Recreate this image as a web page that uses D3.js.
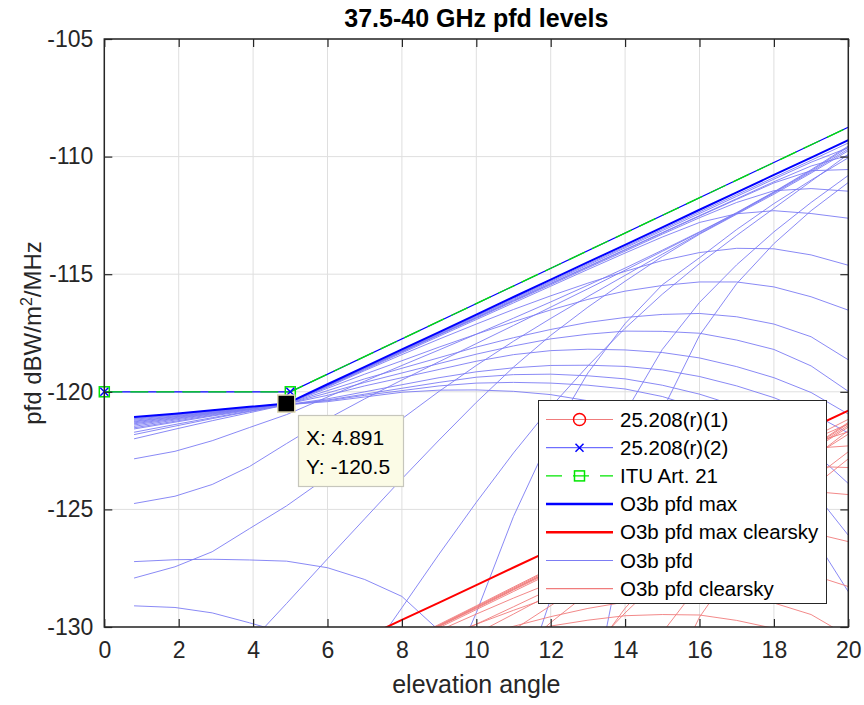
<!DOCTYPE html>
<html>
<head>
<meta charset="utf-8">
<script src="https://cdn.jsdelivr.net/npm/d3@7"></script>
<style>
  body { margin: 0; background: #fff; }
  text { font-family: "Liberation Sans", Arial, Helvetica, sans-serif; }
</style>
</head>
<body>
<svg id="chart" width="864" height="705"></svg>
<script>
// -----------------------------
// Data
// -----------------------------
const TITLE = "37.5-40 GHz pfd levels";
const X_TICKS = [0, 2, 4, 6, 8, 10, 12, 14, 16, 18, 20];
const Y_TICKS = [-130, -125, -120, -115, -110, -105];

// elevation samples of the O3b curves
const ELEV = [0.8, 1.9, 2.9, 3.9, 4.9, 6, 7, 8, 9, 10, 11, 12, 13, 14, 15, 16, 17, 18, 19, 20];

const PFD_MAX = [-121.07, -120.93, -120.78, -120.64, -120.5, -119.68, -118.94, -118.2, -117.46, -116.72,
  -115.97, -115.23, -114.49, -113.75, -113.01, -112.26, -111.52, -110.78, -110.04, -109.3];

// O3b pfd curves (one row per curve, aligned with ELEV, null = not drawn)
const PFD_ROWS = [
  [-121.1, -120.95, -120.79, -120.65, -120.5, -119.7, -118.97, -118.24, -117.5, -116.77, -116.03, -115.3, -114.56, -113.83, -113.09, -112.35, -111.62, -110.89, -110.16, -109.42],
  [-121.14, -120.97, -120.81, -120.66, -120.5, -119.72, -118.99, -118.26, -117.53, -116.8, -116.07, -115.34, -114.61, -113.88, -113.15, -112.42, -111.69, -110.96, -110.24, -109.62],
  [-121.17, -120.99, -120.83, -120.67, -120.5, -119.73, -119.0, -118.28, -117.56, -116.84, -116.11, -115.39, -114.67, -113.95, -113.23, -112.51, -111.79, -111.07, -110.4, -109.95],
  [-121.21, -121.02, -120.85, -120.68, -120.5, -119.74, -119.01, -118.29, -117.57, -116.85, -116.13, -115.41, -114.69, -113.97, -113.25, -112.53, -111.82, -111.12, -110.6, -110.55],
  [-121.25, -121.05, -120.87, -120.69, -120.5, -119.75, -119.03, -118.31, -117.59, -116.88, -116.16, -115.45, -114.73, -114.02, -113.3, -112.6, -111.95, -111.45, -111.36, -111.47],
  [-121.28, -121.07, -120.88, -120.69, -120.5, -119.77, -119.06, -118.35, -117.64, -116.93, -116.22, -115.51, -114.8, -114.1, -113.42, -112.8, -112.43, -112.3, -112.42, -112.62],
  [-121.32, -121.1, -120.9, -120.7, -120.5, -119.8, -119.1, -118.42, -117.76, -117.12, -116.5, -115.92, -115.38, -114.88, -114.42, -114.08, -113.9, -113.92, -114.18, -114.62],
  [-121.36, -121.13, -120.92, -120.72, -120.52, -119.85, -119.25, -118.68, -118.1, -117.55, -117.02, -116.52, -116.07, -115.72, -115.48, -115.33, -115.33, -115.54, -115.96, -116.53],
  [-121.41, -121.16, -120.94, -120.73, -120.52, -119.95, -119.45, -119.0, -118.55, -118.1, -117.7, -117.35, -117.05, -116.84, -116.71, -116.67, -116.81, -117.12, -117.66, -118.64],
  [-121.47, -121.2, -120.97, -120.75, -120.52, -120.05, -119.6, -119.2, -118.8, -118.4, -118.05, -117.75, -117.55, -117.42, -117.43, -117.51, -117.8, -118.2, -118.9, -119.98],
  [-121.53, -121.25, -121.0, -120.76, -120.52, -120.15, -119.75, -119.4, -119.05, -118.7, -118.42, -118.25, -118.19, -118.22, -118.33, -118.56, -118.93, -119.4, -120.03, -120.95],
  [-121.58, -121.29, -121.03, -120.79, -120.55, -120.3, -120.0, -119.7, -119.4, -119.15, -118.98, -118.88, -118.87, -118.92, -119.07, -119.35, -119.75, -120.25, -120.9, -121.75],
  [-121.72, -121.39, -121.1, -120.82, -120.55, -120.35, -120.1, -119.85, -119.6, -119.38, -119.27, -119.25, -119.32, -119.45, -119.72, -120.1, -120.6, -121.3, -122.45, -123.9],
  [-121.82, -121.46, -121.14, -120.84, -120.55, -120.38, -120.15, -119.95, -119.75, -119.63, -119.6, -119.63, -119.72, -119.88, -120.2, -120.7, -121.45, -122.6, -124.1, -126.1],
  [-122.0, -121.59, -121.23, -120.89, -120.55, -120.42, -120.22, -120.02, -119.93, -119.92, -119.98, -120.12, -120.38, -120.73, -121.25, -121.98, -122.95, -124.25, -126.0, -128.5],
  [-122.85, -122.53, -122.08, -121.52, -120.97, -120.22, -119.55, -118.88, -118.22, -117.55, -116.87, -116.18, -115.47, -114.74, -113.98, -113.2, -112.38, -111.5, -110.56, -109.55],
  [-124.75, -124.44, -123.94, -123.18, -122.2, -121.15, -120.3, -119.5, -118.72, -117.95, -117.18, -116.4, -115.62, -114.83, -114.03, -113.22, -112.4, -111.52, -110.6, -109.6],
  [-127.92, -127.44, -126.8, -125.82, -124.85, -123.62, -122.38, -121.15, -119.98, -118.88, -117.85, -116.88, -115.95, -115.05, -114.15, -113.27, -112.42, -111.55, -110.65, -109.68],
  [-127.22, -127.14, -127.12, -127.15, -127.2, -127.48, -127.98, -128.7, -130.15],
  [-129.1, -129.17, -129.4, -129.82, -130.27],
  [null, null, null, -130.7, -129.0, -127.1, -125.4, -123.7, -122.05, -120.45, -118.95, -117.6, -116.4, -115.3, -114.25, -113.3, -112.45, -111.6, -110.7, -109.75],
  [null, null, null, null, null, null, -131.45, -129.18, -126.9, -124.7, -122.6, -120.65, -118.9, -117.3, -115.85, -114.55, -113.35, -112.2, -111.05, -109.9],
  [null, null, null, null, null, null, null, null, -133.0, -129.4, -125.3, -121.9, -119.2, -117.1, -115.45, -114.3, -113.1, -112.0, -111.0, -110.05],
  [null, null, null, null, null, null, null, null, null, null, -133.5, -128.8, -124.5, -120.9, -118.2, -116.2, -114.6, -113.2, -111.95, -110.8],
  [null, null, null, null, null, null, null, null, null, null, null, null, -134.0, -126.1, -120.8, -117.6, -115.4, -113.7, -112.3, -111.1]
];

// clear-sky curves
const CLEAR_MAX_ELEV = [7, 8, 9, 10, 11, 12, 13, 14, 15, 16, 17, 18, 19, 20];
const PFD_CLEAR_MAX = [-130.44, -129.7, -128.96, -128.22, -127.47, -126.73, -125.99, -125.25, -124.51, -123.76, -123.02, -122.28, -121.54, -120.8];

const CLEAR_ELEV = [8, 9, 10, 11, 12, 13, 14, 15, 16, 17, 18, 19, 20];
const PFD_CLEAR_ROWS = [
  [-130.69, -129.89, -129.1, -128.3, -127.51, -126.72, -125.93, -125.13, -124.33, -123.54, -122.75, -121.97, -121.17],
  [-130.71, -129.92, -129.13, -128.34, -127.55, -126.77, -125.98, -125.19, -124.4, -123.61, -122.82, -122.05, -121.37],
  [-130.73, -129.95, -129.17, -128.38, -127.6, -126.83, -126.05, -125.27, -124.49, -123.71, -122.93, -122.21, -121.7],
  [-130.74, -129.96, -129.18, -128.4, -127.62, -126.85, -126.07, -125.29, -124.51, -123.74, -122.98, -122.41, -122.3],
  [-130.76, -129.98, -129.21, -128.43, -127.66, -126.89, -126.12, -125.34, -124.58, -123.87, -123.31, -123.17, -123.22],
  [-130.8, -130.03, -129.26, -128.49, -127.72, -126.96, -126.2, -125.46, -124.78, -124.35, -124.16, -124.23, -124.37],
  [-130.87, -130.15, -129.45, -128.77, -128.13, -127.54, -126.98, -126.46, -126.06, -125.82, -125.78, -125.99, -126.37],
  [-131.13, -130.49, -129.88, -129.29, -128.73, -128.23, -127.82, -127.52, -127.31, -127.25, -127.4, -127.77, -128.28],
  [-131.45, -130.94, -130.43, -129.97, -129.56, -129.21, -128.94, -128.75, -128.65, -128.73, -128.98, -129.47, -130.39],
  [-131.6, -131.15, -130.73, -130.32, -129.96, -129.71, -129.52, -129.47, -129.49, -129.72, -130.06, -130.71, -131.73],
  [-131.33, -130.61, -129.88, -129.14, -128.39, -127.63, -126.84, -126.02, -125.18, -124.3, -123.36, -122.37, -121.3],
  [-131.95, -131.11, -130.28, -129.45, -128.61, -127.78, -126.93, -126.07, -125.2, -124.32, -123.38, -122.41, -121.35],
  [-133.6, -132.37, -131.21, -130.12, -129.09, -128.11, -127.15, -126.19, -125.25, -124.34, -123.41, -122.46, -121.43],
  [null, null, -132.78, -131.22, -129.81, -128.56, -127.4, -126.29, -125.28, -124.37, -123.46, -122.51, -121.5],
  [null, null, null, -134.87, -132.86, -131.06, -129.4, -127.89, -126.53, -125.27, -124.06, -122.86, -121.65],
  [null, null, null, null, -134.11, -131.36, -129.2, -127.49, -126.28, -125.02, -123.86, -122.81, -121.8],
  [null, null, null, null, null, -136.66, -133.0, -130.24, -128.18, -126.52, -125.06, -123.76, -122.55],
  [null, null, null, null, null, null, null, -132.84, -129.58, -127.32, -125.56, -124.11, -122.85]
];

// regulatory limits
const LIMIT_ELEV = [0, 5, 25];
const ITU_ART21 = [-120, -120, -105];
const RR_25208_2 = [-120, -120, -105];

const DATATIP = { x: 4.891, y: -120.5 };

const LEGEND_LABELS = ["25.208(r)(1)", "25.208(r)(2)", "ITU Art. 21", "O3b pfd max",
  "O3b pfd max clearsky", "O3b pfd", "O3b pfd clearsky"];

// -----------------------------
// Layout
// -----------------------------
const svg = d3.select("#chart");
const plotLeft = 104.3, plotRight = 848.3, plotTop = 39, plotBottom = 627;
const AXIS_COLOR = "#262626";
const THIN_BLUE = "#7c7cf4";
const THIN_RED = "#f07c7c";

const x = d3.scaleLinear().domain([0, 20]).range([plotLeft, plotRight]);
const y = d3.scaleLinear().domain([-130, -105]).range([plotBottom, plotTop]);

svg.append("rect").attr("width", 864).attr("height", 705).attr("fill", "#fff");

svg.append("defs").append("clipPath").attr("id", "plotClip")
  .append("rect")
  .attr("x", plotLeft).attr("y", plotTop)
  .attr("width", plotRight - plotLeft).attr("height", plotBottom - plotTop);

// grid
const grid = svg.append("g").attr("stroke", "#dfdfdf").attr("stroke-width", 1);
grid.selectAll(".gx").data(X_TICKS).join("line")
  .attr("x1", d => x(d)).attr("x2", d => x(d))
  .attr("y1", plotTop).attr("y2", plotBottom);
grid.selectAll(".gy").data(Y_TICKS).join("line")
  .attr("x1", plotLeft).attr("x2", plotRight)
  .attr("y1", d => y(d)).attr("y2", d => y(d));

// -----------------------------
// Curves
// -----------------------------
const line = d3.line()
  .defined(d => d[1] != null)
  .x(d => x(d[0]))
  .y(d => y(d[1]));

const pairs = (xs, ys) => ys.map((v, i) => [xs[i], v]);

const plot = svg.append("g").attr("clip-path", "url(#plotClip)").attr("fill", "none");

plot.append("g")
  .selectAll("path")
  .data(PFD_ROWS)
  .join("path")
  .attr("d", r => line(pairs(ELEV, r)))
  .attr("stroke", THIN_BLUE)
  .attr("stroke-width", 0.9);

plot.append("g")
  .selectAll("path")
  .data(PFD_CLEAR_ROWS)
  .join("path")
  .attr("d", r => line(pairs(CLEAR_ELEV, r)))
  .attr("stroke", THIN_RED)
  .attr("stroke-width", 0.9);

plot.append("path")
  .attr("d", line(pairs(ELEV, PFD_MAX)))
  .attr("stroke", "#0000ff")
  .attr("stroke-width", 2);

plot.append("path")
  .attr("d", line(pairs(CLEAR_MAX_ELEV, PFD_CLEAR_MAX)))
  .attr("stroke", "#ff0000")
  .attr("stroke-width", 2);

plot.append("path")
  .attr("d", line(pairs(LIMIT_ELEV, RR_25208_2)))
  .attr("stroke", "#0000ff")
  .attr("stroke-width", 1.2);

plot.append("path")
  .attr("d", line(pairs(LIMIT_ELEV, ITU_ART21)))
  .attr("stroke", "#00e600")
  .attr("stroke-width", 1.3)
  .attr("stroke-dasharray", "18,8");

// markers (not clipped, like MATLAB)
const inView = (xs, ys) => pairs(xs, ys).filter(d => d[0] >= 0 && d[0] <= 20 && d[1] >= -130 && d[1] <= -105);

function squareMarker(g, cx, cy, color) {
  g.append("rect")
    .attr("x", cx - 5).attr("y", cy - 5)
    .attr("width", 10).attr("height", 10)
    .attr("fill", "none").attr("stroke", color).attr("stroke-width", 1.5);
}
function crossMarker(g, cx, cy, color) {
  g.append("path")
    .attr("d", `M${cx - 4},${cy - 4}L${cx + 4},${cy + 4}M${cx - 4},${cy + 4}L${cx + 4},${cy - 4}`)
    .attr("stroke", color).attr("stroke-width", 1.5).attr("fill", "none");
}
function circleMarker(g, cx, cy, color) {
  g.append("circle").attr("cx", cx).attr("cy", cy).attr("r", 6)
    .attr("fill", "none").attr("stroke", color).attr("stroke-width", 1.5);
}

const marks = svg.append("g");
inView(LIMIT_ELEV, ITU_ART21).forEach(d => squareMarker(marks, x(d[0]), y(d[1]), "#00e600"));
inView(LIMIT_ELEV, RR_25208_2).forEach(d => crossMarker(marks, x(d[0]), y(d[1]), "#0000ff"));

// -----------------------------
// Axes
// -----------------------------
function styleAxis(g) {
  g.select(".domain").remove();
  g.selectAll("line").attr("stroke", AXIS_COLOR).attr("stroke-width", 1.2);
  g.selectAll("text")
    .attr("fill", AXIS_COLOR)
    .style("font-family", '"Liberation Sans", Arial, sans-serif')
    .style("font-size", "23px");
}

// plain hyphen minus, as in the original figure
const plainFormat = d => String(d);

svg.append("g")
  .attr("transform", `translate(0,${plotBottom})`)
  .call(d3.axisBottom(x).tickValues(X_TICKS).tickFormat(plainFormat)
    .tickSizeInner(-8).tickSizeOuter(0).tickPadding(15))
  .call(styleAxis);

svg.append("g")
  .attr("transform", `translate(${plotLeft},0)`)
  .call(d3.axisLeft(y).tickValues(Y_TICKS).tickFormat(plainFormat)
    .tickSizeInner(-8).tickSizeOuter(0).tickPadding(11))
  .call(styleAxis);

svg.append("g")
  .attr("transform", `translate(0,${plotTop})`)
  .call(d3.axisTop(x).tickValues(X_TICKS).tickSizeInner(-8).tickSizeOuter(0).tickFormat(""))
  .call(styleAxis);

svg.append("g")
  .attr("transform", `translate(${plotRight},0)`)
  .call(d3.axisRight(y).tickValues(Y_TICKS).tickSizeInner(-8).tickSizeOuter(0).tickFormat(""))
  .call(styleAxis);

svg.append("rect")
  .attr("x", plotLeft).attr("y", plotTop)
  .attr("width", plotRight - plotLeft).attr("height", plotBottom - plotTop)
  .attr("fill", "none").attr("stroke", AXIS_COLOR).attr("stroke-width", 1.5);

// title and labels
svg.append("text")
  .attr("x", (plotLeft + plotRight) / 2).attr("y", 27)
  .attr("text-anchor", "middle")
  .style("font-size", "25px").style("font-weight", "bold")
  .attr("fill", "#000")
  .text(TITLE);

svg.append("text")
  .attr("x", (plotLeft + plotRight) / 2).attr("y", 693)
  .attr("text-anchor", "middle")
  .style("font-size", "25px")
  .attr("fill", AXIS_COLOR)
  .text("elevation angle");

const yLabel = svg.append("text")
  .attr("transform", `translate(41,${(plotTop + plotBottom) / 2}) rotate(-90)`)
  .attr("text-anchor", "middle")
  .style("font-size", "24px")
  .attr("fill", AXIS_COLOR);
yLabel.append("tspan").text("pfd dBW/m");
yLabel.append("tspan").attr("dy", -9).style("font-size", "16px").text("2");
yLabel.append("tspan").attr("dy", 9).text("/MHz");

// -----------------------------
// Data tip
// -----------------------------
const tip = svg.append("g");
tip.append("rect")
  .attr("x", x(DATATIP.x) - 8.5).attr("y", y(DATATIP.y) - 8.5)
  .attr("width", 17).attr("height", 17)
  .attr("fill", "#000").attr("stroke", "#ddd6b0").attr("stroke-width", 1.5);
tip.append("rect")
  .attr("x", 298.5).attr("y", 415.5)
  .attr("width", 105).attr("height", 71)
  .attr("fill", "#fbfbe6").attr("stroke", "#c6c6bc").attr("stroke-width", 1.2);
tip.append("text").attr("x", 306).attr("y", 445)
  .style("font-size", "21px").attr("fill", "#000")
  .text(`X: ${DATATIP.x}`);
tip.append("text").attr("x", 306).attr("y", 474)
  .style("font-size", "21px").attr("fill", "#000")
  .text(`Y: ${DATATIP.y}`);

// -----------------------------
// Legend
// -----------------------------
const legend = svg.append("g");
legend.append("rect")
  .attr("x", 538.5).attr("y", 400.5)
  .attr("width", 288).attr("height", 203)
  .attr("fill", "#fff").attr("stroke", AXIS_COLOR).attr("stroke-width", 1);

const legendStyles = [
  { stroke: THIN_RED, width: 1, marker: "circle", markerColor: "#ff0000" },
  { stroke: "#4d4dff", width: 1, marker: "cross", markerColor: "#0000ff" },
  { stroke: "#00e600", width: 1.3, dash: "16,11", marker: "square", markerColor: "#00e600" },
  { stroke: "#0000ff", width: 2.5 },
  { stroke: "#ff0000", width: 2.5 },
  { stroke: THIN_BLUE, width: 1.2 },
  { stroke: THIN_RED, width: 1.2 }
];

LEGEND_LABELS.forEach((label, i) => {
  const cy = 419.5 + i * 28.2;
  const s = legendStyles[i];
  legend.append("line")
    .attr("x1", 546).attr("x2", 613).attr("y1", cy).attr("y2", cy)
    .attr("stroke", s.stroke).attr("stroke-width", s.width)
    .attr("stroke-dasharray", s.dash || null);
  if (s.marker === "circle") circleMarker(legend, 579.5, cy, s.markerColor);
  if (s.marker === "cross") crossMarker(legend, 579.5, cy, s.markerColor);
  if (s.marker === "square") squareMarker(legend, 579.5, cy, s.markerColor);
  legend.append("text")
    .attr("x", 620).attr("y", cy + 7)
    .style("font-size", "20.5px").attr("fill", "#000")
    .text(label);
});
</script>
</body>
</html>
